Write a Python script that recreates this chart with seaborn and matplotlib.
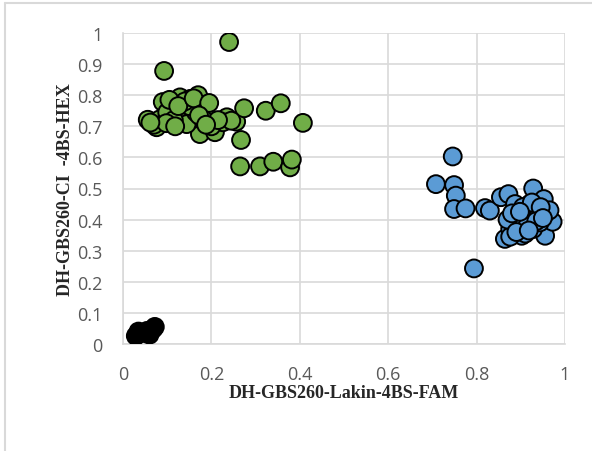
import matplotlib
matplotlib.use("Agg")
import matplotlib.pyplot as plt
import seaborn as sns
import pandas as pd
from matplotlib.lines import Line2D

# Genotype groups: FAM (x) vs HEX (y) normalised fluorescence
green_x = [0.093, 0.240, 0.056, 0.076, 0.106, 0.129, 0.136, 0.170, 0.176, 0.174,
           0.195, 0.208, 0.235, 0.256, 0.274, 0.267, 0.265, 0.310, 0.340, 0.323,
           0.357, 0.378, 0.382, 0.407, 0.090, 0.152, 0.158, 0.121, 0.144, 0.189,
           0.226, 0.084, 0.110, 0.100, 0.165, 0.200, 0.130, 0.185, 0.115, 0.150,
           0.070, 0.140, 0.180, 0.245, 0.105, 0.125, 0.160, 0.195, 0.215, 0.098,
           0.118, 0.172, 0.188, 0.062]
green_y = [0.878, 0.971, 0.721, 0.697, 0.715, 0.793, 0.756, 0.800, 0.768, 0.675,
           0.713, 0.681, 0.729, 0.715, 0.758, 0.656, 0.571, 0.571, 0.586, 0.750,
           0.774, 0.568, 0.593, 0.711, 0.778, 0.788, 0.723, 0.734, 0.707, 0.766,
           0.713, 0.723, 0.760, 0.745, 0.745, 0.700, 0.770, 0.740, 0.720, 0.765,
           0.705, 0.780, 0.725, 0.718, 0.785, 0.765, 0.790, 0.775, 0.720, 0.710,
           0.700, 0.735, 0.705, 0.712]

blue_x = [0.746, 0.708, 0.749, 0.753, 0.749, 0.775, 0.794, 0.819, 0.830, 0.855,
          0.872, 0.864, 0.928, 0.952, 0.955, 0.972, 0.909, 0.909, 0.883, 0.891,
          0.902, 0.928, 0.936, 0.958, 0.876, 0.887, 0.943, 0.876, 0.910, 0.920,
          0.895, 0.940, 0.900, 0.965, 0.870, 0.915, 0.880, 0.905, 0.925, 0.945,
          0.890, 0.935, 0.950, 0.898, 0.918]
blue_y = [0.603, 0.514, 0.511, 0.477, 0.434, 0.436, 0.243, 0.437, 0.429, 0.472,
          0.482, 0.338, 0.500, 0.466, 0.348, 0.393, 0.434, 0.397, 0.402, 0.370,
          0.348, 0.370, 0.429, 0.423, 0.370, 0.450, 0.391, 0.345, 0.355, 0.450,
          0.415, 0.410, 0.385, 0.430, 0.400, 0.380, 0.420, 0.440, 0.455, 0.440,
          0.360, 0.395, 0.405, 0.425, 0.365]

black_x = [0.029, 0.041, 0.054, 0.068, 0.072, 0.035, 0.060]
black_y = [0.026, 0.035, 0.042, 0.048, 0.055, 0.040, 0.030]

x_ticks = [0, 0.2, 0.4, 0.6, 0.8, 1]
y_ticks = [0, 0.1, 0.2, 0.3, 0.4, 0.5, 0.6, 0.7, 0.8, 0.9, 1]

df = pd.concat([
    pd.DataFrame({"fam": green_x, "hex": green_y, "group": "green"}),
    pd.DataFrame({"fam": blue_x, "hex": blue_y, "group": "blue"}),
    pd.DataFrame({"fam": black_x, "hex": black_y, "group": "black"}),
], ignore_index=True)

palette = {"green": "#70AD47", "blue": "#5B9BD5", "black": "#000000"}

sns.set_theme(style="white")
fig = plt.figure(figsize=(5.92, 4.52), dpi=100)
ax = fig.add_axes([123 / 592, 1 - 345 / 452, 442 / 592, 311 / 452])

sns.scatterplot(data=df, x="fam", y="hex", hue="group", palette=palette,
                s=165, edgecolor="black", linewidth=1.4, legend=False,
                ax=ax, zorder=3)

ax.set_xlim(0, 1)
ax.set_ylim(0, 1)
ax.set_xticks(x_ticks)
ax.set_yticks(y_ticks)
ax.set_xticklabels([f"{t:g}" for t in x_ticks])
ax.set_yticklabels([f"{t:g}" for t in y_ticks])
ax.grid(True, color="#d9d9d9", linewidth=1.2, zorder=0)
ax.set_axisbelow(True)
for side in ["top", "right"]:
    ax.spines[side].set_visible(False)
for side in ["left", "bottom"]:
    ax.spines[side].set_color("#d9d9d9")
    ax.spines[side].set_linewidth(1.2)
ax.tick_params(axis="both", length=0, labelsize=13, labelcolor="#595959")
ax.tick_params(axis="x", pad=15)
ax.tick_params(axis="y", pad=15)
for lbl in ax.get_xticklabels() + ax.get_yticklabels():
    lbl.set_family(["Open Sans", "DejaVu Sans"])

ax.set_xlabel("DH-GBS260-Lakin-4BS-FAM", fontsize=13, fontweight="bold",
              family=["Liberation Serif", "DejaVu Serif"], labelpad=1)
ax.set_ylabel("DH-GBS260-CI  -4BS-HEX", fontsize=13, fontweight="bold",
              family=["Liberation Serif", "DejaVu Serif"], labelpad=2)

# Chart frame lines
fig.add_artist(Line2D([4.5 / 592, 4.5 / 592], [0, 1 - 4 / 452],
                      transform=fig.transFigure, color="#d9d9d9", linewidth=1.5))
fig.add_artist(Line2D([4.5 / 592, 1], [1 - 4 / 452, 1 - 4 / 452],
                      transform=fig.transFigure, color="#d9d9d9", linewidth=1.5))

fig.savefig("out.png", dpi=100, facecolor="white")
